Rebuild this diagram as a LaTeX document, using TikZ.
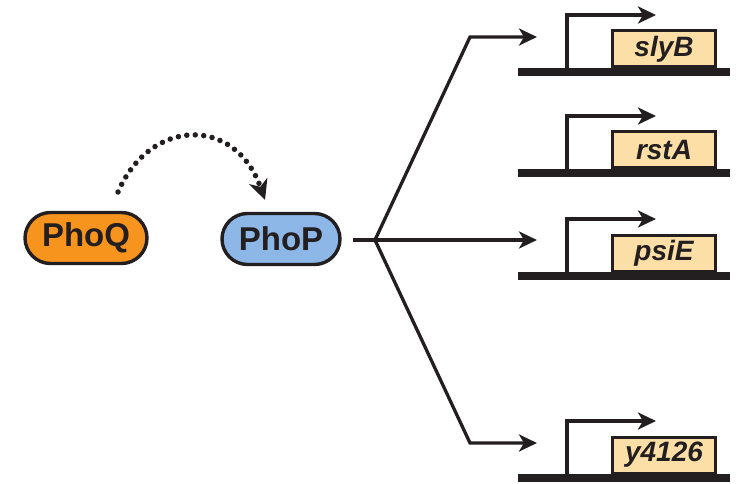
\documentclass[tikz,border=0pt]{standalone}
\usepackage{fontspec}
\setmainfont{Liberation Sans}
\usetikzlibrary{arrows.meta,shapes.misc}
\definecolor{inkc}{HTML}{231F20}
\definecolor{phoqc}{HTML}{F7941E}
\definecolor{phopc}{HTML}{8DB7E6}
\definecolor{genec}{HTML}{FBDFA6}
\tikzset{
  protein/.style={rounded rectangle, draw=inkc, line width=3.4pt, minimum height=51pt, inner sep=0pt,
    font=\fontsize{33}{33}\selectfont\bfseries, text=inkc},
  genebox/.style={rectangle, draw=inkc, line width=3pt, fill=genec, minimum width=103pt, minimum height=36pt,
    inner sep=0pt, font=\fontsize{28}{28}\selectfont\bfseries\itshape, text=inkc},
  conn/.style={draw=inkc, line width=3.3pt, line join=miter, -{Stealth[length=18pt,width=17pt,inset=5pt]}},
  prom/.style={draw=inkc, line width=3.6pt, line join=miter, -{Stealth[length=18pt,width=17pt,inset=5pt]}},
  dna/.style={draw=inkc, line width=7.5pt},
  dots/.style={draw=inkc, line width=5.5pt, line cap=round, dash pattern=on 0pt off 8.5pt,
    -{Stealth[length=20pt,width=19pt,inset=6pt]}}
}
\begin{document}
\begin{tikzpicture}[x=1pt,y=-1pt]
\useasboundingbox (0,0) rectangle (739,484);
% proteins
\node[protein, fill=phoqc, minimum width=122pt] (phoq) at (86,238) {PhoQ};
\node[protein, fill=phopc, minimum width=118pt] (phop) at (281,239) {PhoP};
% dotted activation arrow
\coordinate (dstart) at (118,192);
\coordinate (dend) at (265,200);
\draw[dots] (dstart) .. controls (150,118) and (235,115) .. (dend);
% genes: baseline y values 72, 173, 276, 478
\foreach \nm/\lab/\B in {g1/slyB/72, g2/rstA/173, g3/psiE/276, g4/y4126/478}{
  \coordinate (\nm dl) at (518,\B);
  \coordinate (\nm dr) at (730,\B);
  \draw[dna] (\nm dl) -- (\nm dr);
  \coordinate (\nm p) at (567,\B);
  \coordinate (\nm pt) at (656,\B-57);
  \draw[prom] (\nm p) |- (\nm pt);
  \node[genebox, anchor=south] (\nm) at (664,\B-3.5) {\lab};
  \coordinate (\nm in) at (537,\B-35);
}
% branching connectors
\coordinate (bstart) at (353,240);
\coordinate (branch) at (375,240);
\coordinate (kup) at (470,37);
\coordinate (kdn) at (470,443);
\draw[draw=inkc, line width=3.3pt] (bstart) -- (branch);
\draw[conn] (branch) -- (kup) -- (g1in |- kup);
\draw[conn] (branch) -- (g3in |- branch);
\draw[conn] (branch) -- (kdn) -- (g4in |- kdn);
\end{tikzpicture}
\end{document}
